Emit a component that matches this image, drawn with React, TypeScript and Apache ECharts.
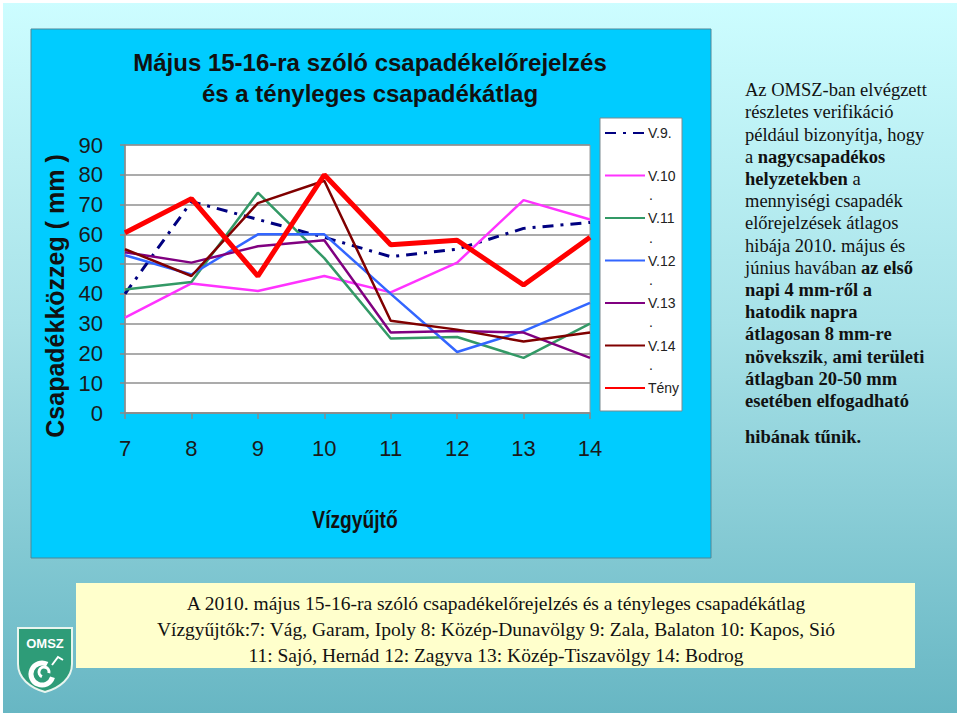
import React, { useEffect, useRef } from "react";
import * as echarts from "echarts";

const categories = ["7", "8", "9", "10", "11", "12", "13", "14"];
const seriesNames = ["V.9.", "V.10", "V.11", "V.12", "V.13", "V.14", "Tény"];
const v9 = [40, 71, 65, 59, 52.5, 55, 62, 64];
const v10 = [32, 43.5, 41, 46, 40.5, 50.5, 71.5, 65];
const v11 = [41.5, 44, 74, 52, 25, 25.5, 18.5, 30];
const v12 = [53, 46.5, 60, 60, 40, 20.5, 27.5, 37];
const v13 = [54, 50.5, 56, 58, 27, 27.5, 27, 18.5];
const v14 = [55, 46, 70.5, 78, 31, 28, 24, 27];
const teny = [60.5, 72, 46, 80, 56.5, 58, 43, 59];

const titleLines = ["Május 15-16-ra szóló csapadékelőrejelzés", "és a tényleges csapadékátlag"];
const yAxisTitle = "Csapadékközzeg ( mm )";
const xAxisTitle = "Vízgyűjtő";

const noteLines = [
  "{n|Az OMSZ-ban elvégzett}",
  "{n|részletes verifikáció}",
  "{n|például bizonyítja, hogy}",
  "{n|a }{b|nagycsapadékos}",
  "{b|helyzetekben}{n| a}",
  "{n|mennyiségi csapadék}",
  "{n|előrejelzések átlagos}",
  "{n|hibája 2010. május és}",
  "{n|június havában }{b|az első}",
  "{b|napi 4 mm-ről a}",
  "{b|hatodik napra}",
  "{b|átlagosan 8 mm-re}",
  "{b|növekszik}{n|, }{b|ami területi}",
  "{b|átlagban 20-50 mm}",
  "{b|esetében elfogadható}",
];
const noteLast = "hibának tűnik.";

const captionLines = [
  "A 2010. május 15-16-ra szóló csapadékelőrejelzés és a tényleges csapadékátlag",
  "Vízgyűjtők:7: Vág, Garam, Ipoly 8: Közép-Dunavölgy 9: Zala, Balaton 10: Kapos, Sió",
  "11: Sajó, Hernád 12: Zagyva 13: Közép-Tiszavölgy 14: Bodrog",
];

const SANS = "Arial, 'Liberation Sans', sans-serif";
const SERIF = "'Times New Roman', 'Liberation Serif', serif";

export default function App() {
  const ref = useRef<HTMLDivElement>(null);

  useEffect(() => {
    if (!ref.current) return;
    const Shield = (echarts.graphic as any).extendPath(
      "M0 0 H54 V36 C54 50 42 60 27 64 C12 60 0 50 0 36 Z",
      {}
    );
    echarts.graphic.registerShape("omszshield", Shield);

    const chart = echarts.init(ref.current, undefined, { renderer: "svg" });

    const mk = (name: string, data: number[], color: string, width: number, type: any = "solid") => ({
      name,
      type: "line",
      data,
      symbol: "none",
      smooth: false,
      lineStyle: { color, width, type },
      itemStyle: { color, opacity: 0 },
    });

    const dotYs = [195, 238, 280, 322, 365];

    chart.setOption({
      animation: false,
      backgroundColor: {
        type: "linear",
        x: 0,
        y: 0,
        x2: 0,
        y2: 1,
        colorStops: [
          { offset: 0, color: "#cdfdff" },
          { offset: 0.45, color: "#a8e2e8" },
          { offset: 1, color: "#67b6c3" },
        ],
      },
      grid: {
        left: 125,
        right: 370,
        top: 145,
        bottom: 303,
        show: true,
        backgroundColor: "#ffffff",
        borderColor: "#9a9a9a",
        borderWidth: 1,
      },
      legend: {
        orient: "vertical",
        left: 604,
        top: 126,
        padding: 0,
        itemWidth: 40,
        itemHeight: 14,
        itemGap: 28.5,
        data: seriesNames,
        itemStyle: { opacity: 0 },
        textStyle: { fontFamily: SANS, fontSize: 14, color: "#222", padding: [0, 0, 0, -2] },
      },
      xAxis: {
        type: "category",
        data: categories,
        boundaryGap: false,
        axisLine: { lineStyle: { color: "#8a8a8a", width: 1.5 } },
        axisTick: { show: true, length: 6, lineStyle: { color: "#8a8a8a", width: 1.5 } },
        axisLabel: { fontFamily: SANS, fontSize: 22, color: "#1a1a1a", margin: 24 },
      },
      yAxis: {
        type: "value",
        min: 0,
        max: 90,
        interval: 10,
        axisLine: { show: true, lineStyle: { color: "#8a8a8a", width: 1.5 } },
        axisTick: { show: true, length: 5, lineStyle: { color: "#8a8a8a", width: 1.5 } },
        splitLine: { lineStyle: { color: "#8f8f8f", width: 1.5 } },
        axisLabel: { fontFamily: SANS, fontSize: 22, color: "#1a1a1a", margin: 22 },
      },
      series: [
        mk("V.9.", v9, "#000080", 3, [11, 7, 3, 7]),
        mk("V.10", v10, "#ff33ff", 2.5),
        mk("V.11", v11, "#339966", 2.5),
        mk("V.12", v12, "#3366ff", 2.5),
        mk("V.13", v13, "#800080", 2.5),
        mk("V.14", v14, "#800000", 2.5),
        mk("Tény", teny, "#ff0000", 5),
      ],
      graphic: {
        elements: [
          {
            type: "rect",
            z: -10,
            shape: { x: 1.5, y: 1.5, width: 957, height: 713 },
            style: { fill: "none", stroke: "#ffffff", lineWidth: 3 },
          },
          {
            type: "rect",
            z: -10,
            shape: { x: 31, y: 29, width: 680, height: 529 },
            style: { fill: "#00ccff", stroke: "#4f8796", lineWidth: 1 },
          },
          {
            type: "rect",
            z: 3,
            shape: { x: 600, y: 118, width: 82, height: 293 },
            style: { fill: "#ffffff", stroke: "#7a8a90", lineWidth: 1 },
          },
          ...dotYs.map((y) => ({
            type: "text",
            z: 10,
            x: 651,
            y,
            style: { text: ".", font: `14px ${SANS}`, fill: "#222", align: "center", verticalAlign: "middle" },
          })),
          {
            type: "text",
            z: 10,
            x: 370,
            y: 77.5,
            style: {
              text: titleLines.join("\n"),
              font: `bold 24px ${SANS}`,
              fill: "#111",
              align: "center",
              verticalAlign: "middle",
              lineHeight: 31,
            },
          },
          {
            type: "text",
            z: 10,
            x: 55,
            y: 296,
            rotation: Math.PI / 2,
            style: {
              text: yAxisTitle,
              font: `bold 25px ${SANS}`,
              fill: "#111",
              align: "center",
              verticalAlign: "middle",
            },
          },
          {
            type: "text",
            z: 10,
            x: 355,
            y: 520,
            scaleX: 0.8,
            style: {
              text: xAxisTitle,
              font: `bold 24px ${SANS}`,
              fill: "#111",
              align: "center",
              verticalAlign: "middle",
            },
          },
          {
            type: "text",
            z: 10,
            x: 745,
            y: 79,
            style: {
              text: noteLines.join("\n"),
              align: "left",
              verticalAlign: "top",
              rich: {
                n: { fontFamily: SERIF, fontSize: 18.5, lineHeight: 22.2, fill: "#111" },
                b: { fontFamily: SERIF, fontSize: 18.5, lineHeight: 22.2, fontWeight: "bold", fill: "#111" },
              },
            },
          },
          {
            type: "text",
            z: 10,
            x: 745,
            y: 437,
            style: {
              text: noteLast,
              font: `bold 18.5px ${SERIF}`,
              fill: "#111",
              align: "left",
              verticalAlign: "middle",
            },
          },
          {
            type: "rect",
            z: 5,
            shape: { x: 76, y: 583, width: 839, height: 85 },
            style: { fill: "#ffffcc" },
          },
          {
            type: "text",
            z: 10,
            x: 496,
            y: 629,
            style: {
              text: captionLines.join("\n"),
              font: `19.5px ${SERIF}`,
              fill: "#111",
              align: "center",
              verticalAlign: "middle",
              lineHeight: 26,
            },
          },
          {
            type: "omszshield",
            z: 10,
            x: 18,
            y: 628,
            shape: {},
            style: { fill: "#2e9c78", stroke: "#e8f5ef", lineWidth: 2 },
          },
          {
            type: "text",
            z: 11,
            x: 45,
            y: 643,
            style: { text: "OMSZ", font: `bold 13px ${SANS}`, fill: "#ffffff", align: "center", verticalAlign: "middle" },
          },
          {
            type: "arc",
            z: 11,
            shape: { cx: 42, cy: 674, r: 11, startAngle: 0.3, endAngle: 5.2 },
            style: { stroke: "#ffffff", lineWidth: 5, fill: "none" },
          },
          {
            type: "arc",
            z: 11,
            shape: { cx: 44, cy: 672, r: 5, startAngle: 2, endAngle: 6.5 },
            style: { stroke: "#ffffff", lineWidth: 3, fill: "none" },
          },
          {
            type: "polyline",
            z: 11,
            shape: { points: [[52, 665], [58, 657], [63, 660]] },
            style: { stroke: "#ffffff", lineWidth: 2, fill: "none" },
          },
        ],
      },
    });

    return () => chart.dispose();
  }, []);

  return (
    <div
      ref={ref}
      style={{ position: "absolute", left: 0, top: 0, width: 960, height: 716 }}
    />
  );
}
